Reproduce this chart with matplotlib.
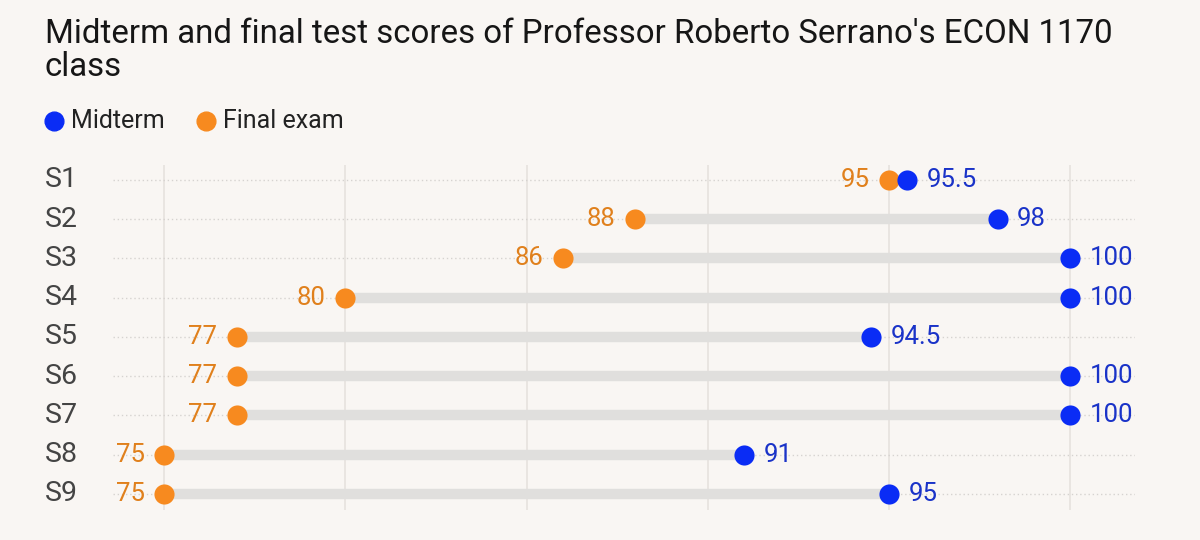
import matplotlib.pyplot as plt
import numpy as np

# Datos
students = ["S1", "S2", "S3", "S4", "S5", "S6", "S7", "S8", "S9"]
midterm = [95.5, 98, 100, 100, 94.5, 100, 100, 91, 95]
final = [95, 88, 86, 80, 77, 77, 77, 75, 75]
grid_ticks = [75, 80, 85, 90, 95, 100]

BG = "#f9f6f3"
BLUE = "#0a2cf5"
ORANGE = "#f78a1f"
BLUE_TXT = "#1a33c8"
ORANGE_TXT = "#e0801c"

plt.rcParams['font.family'] = ['Roboto', 'DejaVu Sans']

fig = plt.figure(figsize=(12, 5.4), dpi=100, facecolor=BG)
ax = fig.add_axes([0.0942, 0.0556, 0.8517, 0.6389])
ax.set_facecolor(BG)

ys = np.arange(len(students))

# Líneas de cuadrícula verticales
for t in grid_ticks:
    ax.axvline(t, color="#e6e2de", lw=1.2, zorder=0)

# Líneas punteadas por fila
for y in ys:
    ax.axhline(y, color="#d6d3d0", lw=1, ls=(0, (1, 2)), zorder=0)

# Conectores
for y, f, m in zip(ys, final, midterm):
    ax.plot([f, m], [y, y], color="#e0dfdd", lw=7.5, solid_capstyle="butt", zorder=1)

ax.scatter(final, ys, s=210, color=ORANGE, zorder=3, linewidths=0)
ax.scatter(midterm, ys, s=210, color=BLUE, zorder=4, linewidths=0)

def fmt(v):
    return f"{v:g}"

for y, f, m in zip(ys, final, midterm):
    ax.annotate(fmt(f), (f, y), xytext=(-14, 0), textcoords="offset points",
                ha="right", va="center", fontsize=18.5, color=ORANGE_TXT)
    ax.annotate(fmt(m), (m, y), xytext=(14, 0), textcoords="offset points",
                ha="left", va="center", fontsize=18.5, color=BLUE_TXT)

ax.set_xlim(73.59, 101.79)
ax.set_ylim(8.41, -0.38)
ax.set_xticks([])
ax.set_yticks([])
for s in ax.spines.values():
    s.set_visible(False)

# Etiquetas de fila
for y, name in zip(ys, students):
    ax.text(-0.0665, y, name, transform=ax.get_yaxis_transform(), ha="left",
            va="center", fontsize=20.5, color="#444444")

# Título
fig.text(45 / 1200, 1 - 43 / 540, "Midterm and final test scores of Professor Roberto Serrano's ECON 1170",
         ha="left", va="baseline", fontsize=23.8, color="#161616")
fig.text(45 / 1200, 1 - 76 / 540, "class",
         ha="left", va="baseline", fontsize=23.8, color="#161616")

# Leyenda
leg_y = 1 - 121 / 540
fig.add_artist(plt.Line2D([54 / 1200], [leg_y], marker="o", markersize=13.5, color=BLUE, ls="none"))
fig.text(71 / 1200, leg_y, "Midterm", ha="left", va="center", fontsize=18, color="#222222")
fig.add_artist(plt.Line2D([206 / 1200], [leg_y], marker="o", markersize=13.5, color=ORANGE, ls="none"))
fig.text(223 / 1200, leg_y, "Final exam", ha="left", va="center", fontsize=18, color="#222222")

fig.savefig("out.png", dpi=100, facecolor=BG)
